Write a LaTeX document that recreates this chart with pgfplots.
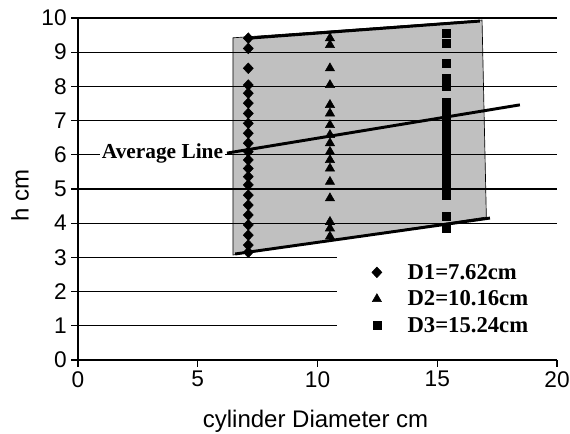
\documentclass[border=0pt]{standalone}
\usepackage{pgfplots}
\pgfplotsset{compat=1.18}
\usepackage{fontspec}
\setmainfont{Liberation Serif}
\newfontfamily\arial{Liberation Sans}
\definecolor{silverfill}{RGB}{192,192,192}
\pgfplotsset{
  mkleg/.style={only marks, legend image code/.code={\path[draw=none,fill=none] (0pt,-0.1pt) rectangle (21pt,0.1pt); \draw[##1] plot coordinates {(0pt,0pt)};}}
}
\begin{document}
\begin{tikzpicture}
\begin{axis}[
  set layers,
  scale only axis,
  width=359.25pt, height=256.5pt,
  xmin=0, xmax=20, ymin=0, ymax=10,
  xtick={0,5,10,15,20}, ytick={0,1,2,3,4,5,6,7,8,9,10},
  axis x line=bottom, axis y line=left,
  axis line style={black, line width=1.5pt, -},
  ymajorgrids, major grid style={black, line width=0.8pt},
  tick align=outside, major tick length=5pt,
  tick style={black, line width=0.9pt},
  /pgf/number format/assume math mode=true,
  tick label style={font=\fontsize{17}{20}\selectfont\arial},
  xlabel={cylinder Diameter cm}, ylabel={h cm},
  label style={font=\fontsize{18}{21}\selectfont\arial},
  x label style={at={(axis description cs:0.496,-0.197)}, anchor=base},
  y label style={at={(axis description cs:-0.121,0.48)}, anchor=center},
  legend style={at={(axis cs:12.26,2.96)}, anchor=north west, draw=none, fill=none,
    inner sep=0pt, row sep=0pt,
    font=\fontsize{17}{19}\selectfont\bfseries,
    nodes={inner ysep=3pt, inner xsep=2pt, text height=12pt, text depth=2pt}},
  legend cell align=left,
]
% shaded band
\addplot[fill=silverfill, draw=black, line width=0.5pt, on layer=axis background, forget plot]
  coordinates {(6.47,9.42) (16.87,9.94) (17.05,4.18) (6.47,3.07)} -- cycle;
% cover for legend area
\fill[white] (axis cs:10.81,0.02) rectangle (axis cs:20,3.03);
% boundary and average lines
\addplot[black, line width=2.2pt, forget plot] coordinates {(6.95,9.40) (16.78,9.91)};
\addplot[black, line width=2.2pt, forget plot] coordinates {(6.56,3.10) (17.2,4.15)};
\addplot[black, line width=2.2pt, forget plot] coordinates {(6.22,6.05) (18.45,7.46)};
% data
\addplot[mkleg, mark=diamond*, mark size=4pt, mark options={xscale=1.25}, black] coordinates {
 (7.11,9.41) (7.11,9.11) (7.11,8.53) (7.11,8.04) (7.11,7.80) (7.11,7.51) (7.11,7.21)
 (7.11,6.92) (7.11,6.63) (7.11,6.34) (7.11,6.09) (7.11,5.85) (7.11,5.60) (7.11,5.36)
 (7.11,5.12) (7.11,4.82) (7.11,4.53) (7.11,4.24) (7.11,3.95) (7.11,3.65) (7.11,3.36)
 (7.11,3.15)};
\addlegendentry{D1=7.62cm}
\addplot[mkleg, mark=triangle*, mark size=4pt, black] coordinates {
 (10.52,9.41) (10.52,9.21) (10.52,8.53) (10.52,8.04) (10.52,7.46) (10.52,7.21)
 (10.52,6.87) (10.52,6.58) (10.52,6.34) (10.52,6.09) (10.52,5.85) (10.52,5.60)
 (10.52,5.21) (10.52,4.73) (10.52,4.04) (10.52,3.85) (10.52,3.61)};
\addlegendentry{D2=10.16cm}
\addplot[mkleg, mark=square*, mark size=3pt, black] coordinates {
 (15.39,9.55) (15.39,9.26) (15.39,8.67) (15.39,8.24) (15.39,7.99) (15.39,7.55)
 (15.39,7.30) (15.39,7.05) (15.39,6.80) (15.39,6.55) (15.39,6.30) (15.39,6.05)
 (15.39,5.80) (15.39,5.55) (15.39,5.30) (15.39,5.05) (15.39,4.82) (15.39,4.19)
 (15.39,3.85)};
\addlegendentry{D3=15.24cm}
\node[fill=white, inner sep=1.5pt, anchor=east, font=\fontsize{16}{18}\selectfont\bfseries]
  at (axis cs:6.15,6.05) {Average Line};
\coordinate (BL) at (axis cs:0,0);
\coordinate (TR) at (axis cs:20,10);
\end{axis}
\pgfresetboundingbox
\path ([shift={(-58.5pt,-55.5pt)}]BL) rectangle ([shift={(9.75pt,13.5pt)}]TR);
\end{tikzpicture}
\end{document}
